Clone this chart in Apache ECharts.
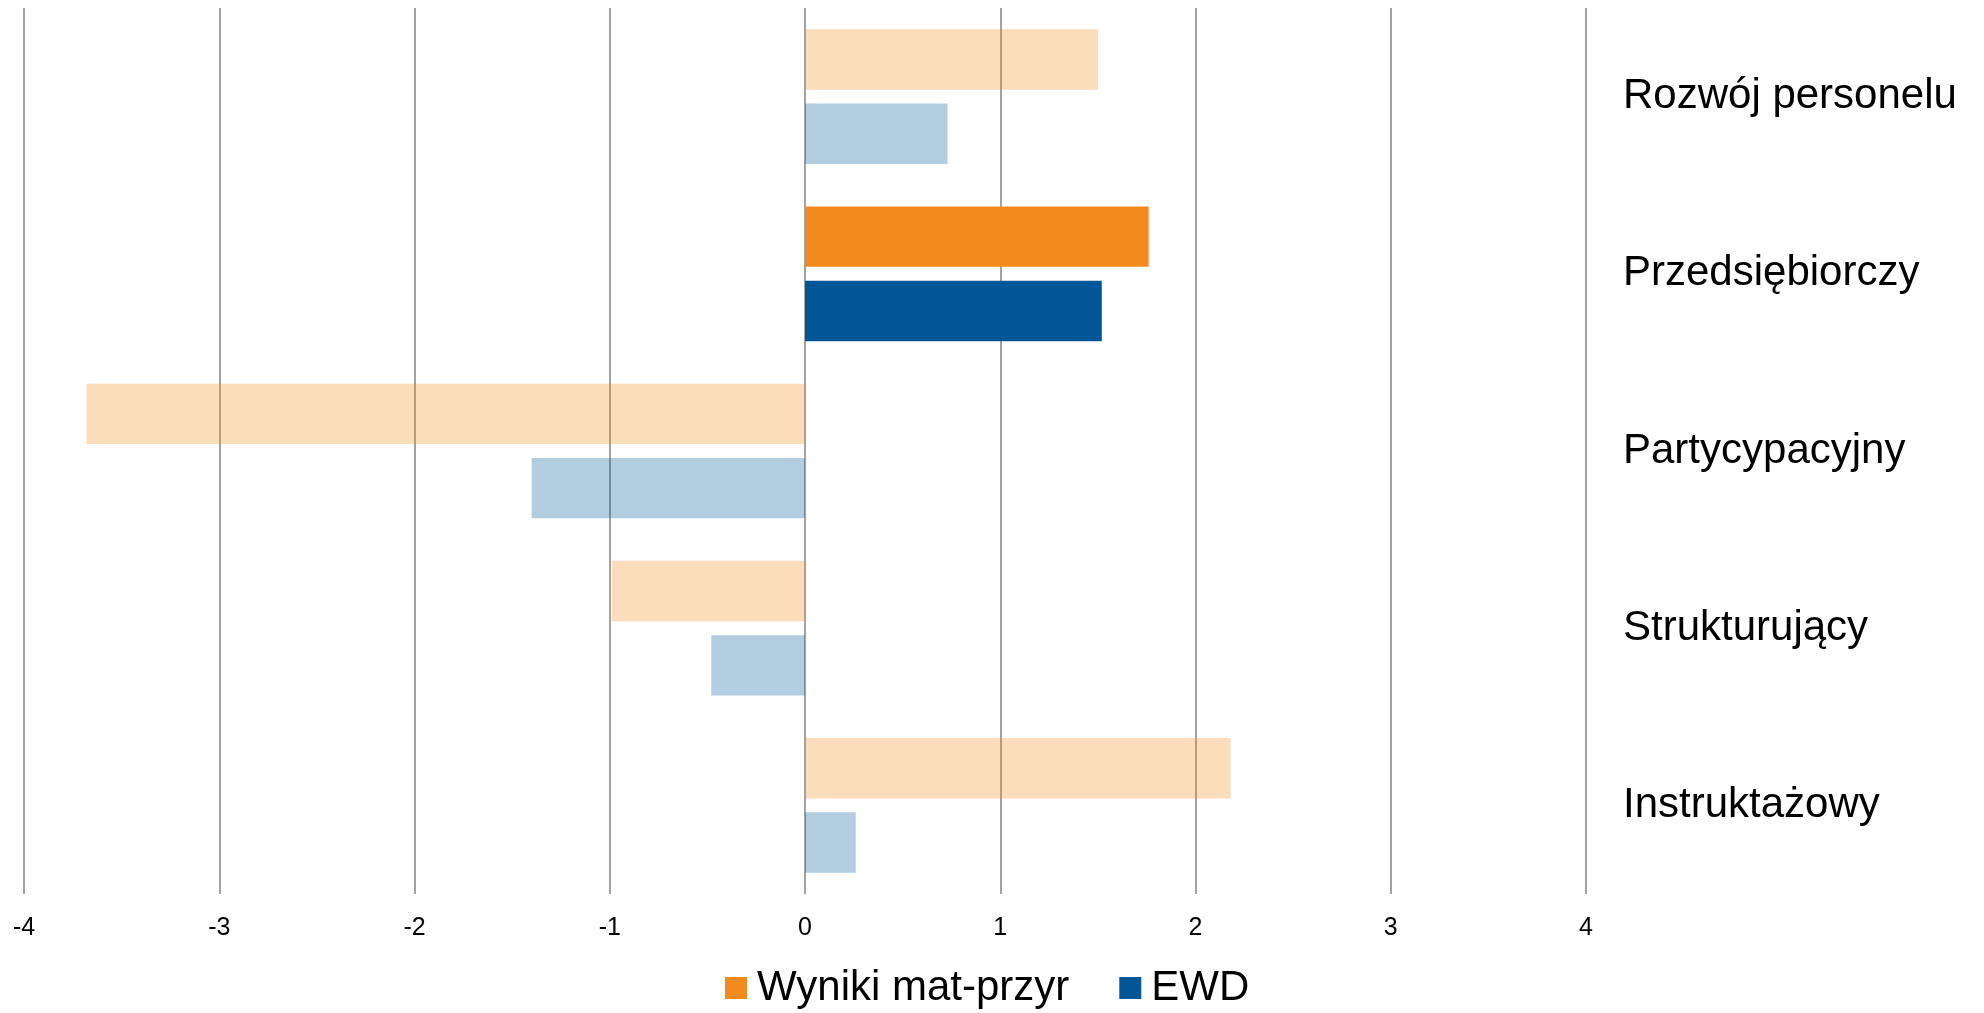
<!DOCTYPE html>
<html>
<head>
<meta charset="utf-8">
<script src="https://cdn.jsdelivr.net/npm/echarts@6/dist/echarts.min.js"></script>
<style>
  html, body { margin: 0; padding: 0; background: #fff; }
  #chart { width: 1984px; height: 1013px; }
</style>
</head>
<body>
<div id="chart"></div>
<script>
const categories = ['Rozwój personelu', 'Przedsiębiorczy', 'Partycypacyjny', 'Strukturujący', 'Instruktażowy'];
const wynikiValues = [1.50, 1.76, -3.68, -0.99, 2.18];
const ewdValues = [0.73, 1.52, -1.40, -0.48, 0.26];
const highlighted = ['Przedsiębiorczy'];
const xTicks = [-4, -3, -2, -1, 0, 1, 2, 3, 4];

const FONT = "'Liberation Sans', Arial, sans-serif";

// faded bars for every category except the highlighted one
function toItems(values) {
  return values.map((v, i) => ({
    value: v,
    itemStyle: { opacity: highlighted.includes(categories[i]) ? 1 : 0.3 }
  }));
}

const chart = echarts.init(document.getElementById('chart'), null, { renderer: 'canvas' });

chart.setOption({
  animation: false,
  backgroundColor: '#ffffff',
  grid: { left: 24, right: 398, top: 8, bottom: 119, containLabel: false },
  xAxis: {
    type: 'value',
    min: xTicks[0],
    max: xTicks[xTicks.length - 1],
    interval: 1,
    axisLine: { show: false },
    axisTick: { show: false },
    axisLabel: { color: '#000', fontFamily: FONT, fontSize: 25, margin: 22 },
    splitLine: { show: true, lineStyle: { color: '#858585', width: 1.5 } }
  },
  yAxis: {
    type: 'category',
    data: categories,
    inverse: true,
    position: 'right',
    axisLine: { show: false },
    axisTick: { show: false },
    axisLabel: { color: '#000', fontFamily: FONT, fontSize: 42, margin: 37, align: 'left' },
    splitLine: { show: false }
  },
  legend: {
    left: 725,
    top: 967,
    padding: 0,
    itemWidth: 22,
    itemHeight: 22,
    itemGap: 50,
    icon: 'rect',
    textStyle: { color: '#000', fontFamily: FONT, fontSize: 42, padding: [0, 0, 0, 5] },
    data: ['Wyniki mat-przyr', 'EWD']
  },
  series: [
    {
      name: 'Wyniki mat-przyr',
      type: 'bar',
      data: toItems(wynikiValues),
      itemStyle: { color: '#F38A1F' },
      barCategoryGap: '24%',
      barGap: '23%'
    },
    {
      name: 'EWD',
      type: 'bar',
      data: toItems(ewdValues),
      itemStyle: { color: '#005697' },
      barCategoryGap: '24%',
      barGap: '23%'
    }
  ]
});
</script>
</body>
</html>
